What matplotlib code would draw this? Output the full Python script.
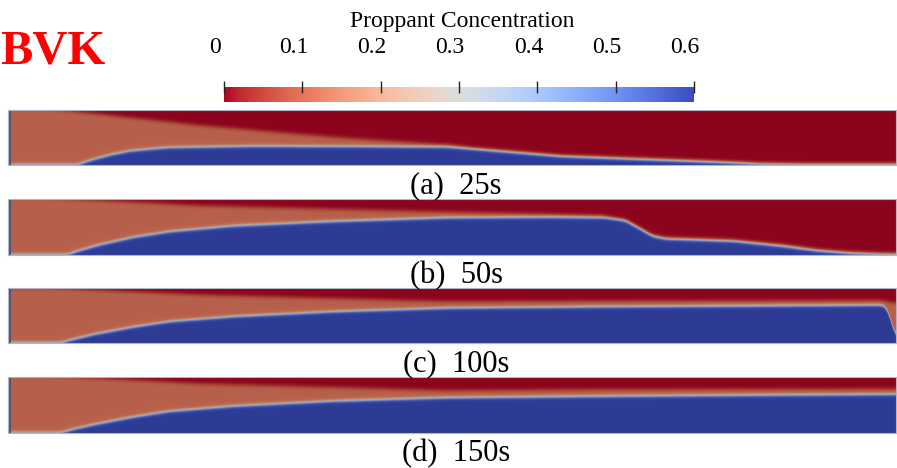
import numpy as np
import matplotlib
matplotlib.use('Agg')
import matplotlib.pyplot as plt
from matplotlib.colors import ListedColormap, Normalize
from matplotlib.cm import ScalarMappable
from matplotlib.transforms import ScaledTranslation

# colour scale
cbar_ticks = [0, 0.1, 0.2, 0.3, 0.4, 0.5, 0.6]
cbar_labels = ['0', '0.1', '0.2', '0.3', '0.4', '0.5', '0.6']
c_min, c_max = 0.0, 0.6

# concentration levels of the three zones
c_clear = 0.0     # clean fluid (top, red)
c_slurry = 0.11   # injected slurry (orange)
c_bed = 0.6       # settled proppant bank (blue)

panel_labels = ['(a)  25s', '(b)  50s', '(c)  100s', '(d)  150s']

# bank top and slurry top, as fraction of slot height, at fraction of slot length
bed_x_a = [0.0, 0.078, 0.092, 0.115, 0.137, 0.179, 0.273, 0.385, 0.494, 0.532, 0.577, 0.622, 0.723, 0.798, 0.847, 0.892, 1.0]
bed_h_a = [0.0, 0.0, 0.08, 0.18, 0.25, 0.31, 0.335, 0.33, 0.32, 0.27, 0.21, 0.15, 0.09, 0.045, 0.01, 0.0, 0.0]
top_x_a = [0.0, 0.047, 0.216, 0.366, 0.494, 0.520, 0.560]
top_h_a = [1.0, 1.0, 0.70, 0.49, 0.35, 0.30, 0.0]

bed_x_b = [0.0, 0.066, 0.081, 0.104, 0.141, 0.182, 0.253, 0.366, 0.494, 0.610, 0.672, 0.695, 0.712, 0.725, 0.740, 0.816, 0.873, 0.911, 0.948, 0.982, 1.0]
bed_h_b = [0.0, 0.0, 0.08, 0.18, 0.31, 0.41, 0.51, 0.59, 0.655, 0.665, 0.655, 0.60, 0.45, 0.33, 0.28, 0.24, 0.15, 0.07, 0.025, 0.005, 0.0]
top_x_b = [0.0, 0.047, 0.216, 0.494, 0.610, 0.672, 0.712]
top_h_b = [1.0, 1.0, 0.86, 0.75, 0.71, 0.68, 0.0]

bed_x_c = [0.0, 0.059, 0.075, 0.098, 0.141, 0.182, 0.253, 0.366, 0.494, 0.667, 0.836, 0.982, 0.989, 0.993, 0.997, 1.0]
bed_h_c = [0.0, 0.0, 0.07, 0.16, 0.29, 0.39, 0.48, 0.57, 0.635, 0.66, 0.675, 0.69, 0.66, 0.45, 0.20, 0.10]
top_x_c = [0.0, 0.047, 0.216, 0.494, 0.667, 0.982, 1.0]
top_h_c = [1.0, 1.0, 0.87, 0.75, 0.76, 0.77, 0.72]

bed_x_d = [0.0, 0.059, 0.075, 0.098, 0.141, 0.182, 0.253, 0.366, 0.494, 0.667, 0.836, 1.0]
bed_h_d = [0.0, 0.0, 0.07, 0.15, 0.28, 0.38, 0.47, 0.56, 0.62, 0.645, 0.665, 0.68]
top_x_d = [0.0, 0.047, 0.216, 0.494, 0.667, 1.0]
top_h_d = [1.0, 1.0, 0.86, 0.74, 0.76, 0.77]

profiles = [
    (bed_x_a, bed_h_a, top_x_a, top_h_a),
    (bed_x_b, bed_h_b, top_x_b, top_h_b),
    (bed_x_c, bed_h_c, top_x_c, top_h_c),
    (bed_x_d, bed_h_d, top_x_d, top_h_d),
]

W, H = 897, 468
panel_boxes = [(8, 110, 896, 165), (8, 199, 896, 255), (8, 288, 896, 343), (8, 377, 896, 433)]


def soften(p, k=9):
    # light rounding of the read profile for drawing
    pad = np.pad(p, k // 2, mode='edge')
    return np.convolve(pad, np.ones(k) / k, mode='valid')


def build_field(bed_x, bed_h, top_x, top_h, nx=900, ny=120):
    xs = np.linspace(0, 1, nx)
    ys = np.linspace(0, 1, ny)
    bed = soften(np.interp(xs, bed_x, bed_h))
    top = np.maximum(soften(np.interp(xs, top_x, top_h)), bed)
    X, Y = np.meshgrid(xs, ys)
    # smooth step across each interface
    s_bed = 0.5 * (1 - np.tanh((Y - bed[None, :]) / 0.03))
    s_top = 0.5 * (1 - np.tanh((Y - top[None, :]) / 0.04))
    field = c_clear + (c_slurry - c_clear) * s_top
    field = field + (c_bed - field) * s_bed
    return field


# colorbar map (ParaView cool-to-warm, reversed); the field is drawn shaded
base = plt.get_cmap('coolwarm_r')
cols = base(np.linspace(0, 1, 256))
shade = cols.copy()
shade[:, :3] = shade[:, :3] * 0.78
field_cmap = ListedColormap(shade)
norm = Normalize(vmin=c_min, vmax=c_max)

plt.rcParams['font.family'] = ['Liberation Serif', 'DejaVu Serif']

fig = plt.figure(figsize=(W / 100, H / 100), dpi=100)


def px_axes(x0, y0, x1, y1):
    return fig.add_axes([x0 / W, 1 - y1 / H, (x1 - x0) / W, (y1 - y0) / H])


for (x0, y0, x1, y1), prof, lab in zip(panel_boxes, profiles, panel_labels):
    ax = px_axes(x0, y0, x1, y1)
    field = build_field(*prof)
    ax.imshow(field, cmap=field_cmap, norm=norm, origin='lower', extent=[0, 1, 0, 1],
              aspect='auto', interpolation='bilinear')
    ax.axvline(0.0015, color='#4b5670', lw=2.2)
    ax.set_xticks([])
    ax.set_yticks([])
    for sp in ax.spines.values():
        sp.set_color('#b4b4c4')
        sp.set_linewidth(0.8)
    fig.text(456 / W, 1 - (y1 + 28) / H, lab, ha='center', va='baseline', fontsize=22)

# colorbar
cax = px_axes(224, 87, 694, 102)
cb = fig.colorbar(ScalarMappable(norm=norm, cmap=base), cax=cax, orientation='horizontal')
cb.outline.set_visible(False)
cax.xaxis.set_ticks_position('top')
cb.set_ticks(cbar_ticks)
cax.tick_params(axis='x', direction='inout', length=9, width=1.0, color='#222222', labeltop=False, labelbottom=False)
off = ScaledTranslation(-9 / 100, 34 / 100, fig.dpi_scale_trans)
for v, t in zip(cbar_ticks, cbar_labels):
    cax.text(v, 1.0, t, transform=cax.get_xaxis_transform() + off, ha='center', va='baseline', fontsize=17)

fig.text(462 / W, 1 - 27 / H, 'Proppant Concentration', ha='center', va='baseline', fontsize=17)
fig.text(0.0, 1 - 63 / H, 'BVK', ha='left', va='baseline', fontsize=35, fontweight='bold', color='#ff0000')

fig.savefig('out.png', dpi=100)
